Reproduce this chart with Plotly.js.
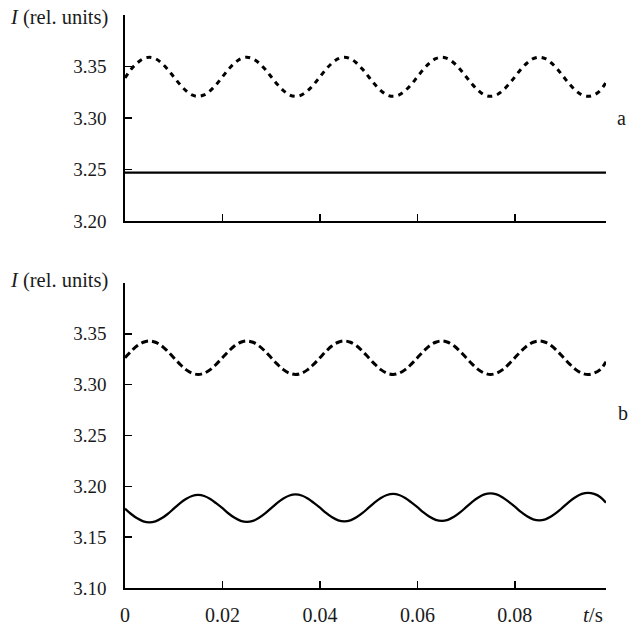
<!DOCTYPE html>
<html>
<head>
<meta charset="utf-8">
<script src="https://cdn.plot.ly/plotly-3.0.1.min.js"></script>
<style>html,body{margin:0;padding:0;background:#fff;}#chart{width:629px;height:628px;}</style>
</head>
<body>
<div id="chart"></div>
<script>
// time samples (s)
var t = [0, 0.00125, 0.0025, 0.00375, 0.005, 0.00625, 0.0075, 0.00875,
         0.01, 0.01125, 0.0125, 0.01375, 0.015, 0.01625, 0.0175, 0.01875,
         0.02, 0.02125, 0.0225, 0.02375, 0.025, 0.02625, 0.0275, 0.02875,
         0.03, 0.03125, 0.0325, 0.03375, 0.035, 0.03625, 0.0375, 0.03875,
         0.04, 0.04125, 0.0425, 0.04375, 0.045, 0.04625, 0.0475, 0.04875,
         0.05, 0.05125, 0.0525, 0.05375, 0.055, 0.05625, 0.0575, 0.05875,
         0.06, 0.06125, 0.0625, 0.06375, 0.065, 0.06625, 0.0675, 0.06875,
         0.07, 0.07125, 0.0725, 0.07375, 0.075, 0.07625, 0.0775, 0.07875,
         0.08, 0.08125, 0.0825, 0.08375, 0.085, 0.08625, 0.0875, 0.08875,
         0.09, 0.09125, 0.0925, 0.09375, 0.095, 0.09625, 0.0975, 0.0987];

// panel a
var aDashed = [3.3390, 3.3473, 3.3534, 3.3576, 3.3590, 3.3576, 3.3534, 3.3473,
               3.3400, 3.3327, 3.3266, 3.3224, 3.3210, 3.3224, 3.3266, 3.3327,
               3.3400, 3.3473, 3.3534, 3.3576, 3.3590, 3.3576, 3.3534, 3.3473,
               3.3400, 3.3327, 3.3266, 3.3224, 3.3210, 3.3224, 3.3266, 3.3327,
               3.3400, 3.3473, 3.3534, 3.3576, 3.3590, 3.3576, 3.3534, 3.3473,
               3.3400, 3.3327, 3.3266, 3.3224, 3.3210, 3.3224, 3.3266, 3.3327,
               3.3400, 3.3473, 3.3534, 3.3576, 3.3590, 3.3576, 3.3534, 3.3473,
               3.3400, 3.3327, 3.3266, 3.3224, 3.3210, 3.3224, 3.3266, 3.3327,
               3.3400, 3.3473, 3.3534, 3.3576, 3.3590, 3.3576, 3.3534, 3.3473,
               3.3400, 3.3327, 3.3266, 3.3224, 3.3210, 3.3224, 3.3266, 3.3345];
var aSolidT = [0, 0.0987];
var aSolid = [3.247, 3.247];

// panel b
var bDashed = [3.3265, 3.3328, 3.3382, 3.3417, 3.3430, 3.3417, 3.3382, 3.3328,
               3.3265, 3.3202, 3.3148, 3.3113, 3.3100, 3.3113, 3.3148, 3.3202,
               3.3265, 3.3328, 3.3382, 3.3417, 3.3430, 3.3417, 3.3382, 3.3328,
               3.3265, 3.3202, 3.3148, 3.3113, 3.3100, 3.3113, 3.3148, 3.3202,
               3.3265, 3.3328, 3.3382, 3.3417, 3.3430, 3.3417, 3.3382, 3.3328,
               3.3265, 3.3202, 3.3148, 3.3113, 3.3100, 3.3113, 3.3148, 3.3202,
               3.3265, 3.3328, 3.3382, 3.3417, 3.3430, 3.3417, 3.3382, 3.3328,
               3.3265, 3.3202, 3.3148, 3.3113, 3.3100, 3.3113, 3.3148, 3.3202,
               3.3265, 3.3328, 3.3382, 3.3417, 3.3430, 3.3417, 3.3382, 3.3328,
               3.3265, 3.3202, 3.3148, 3.3113, 3.3100, 3.3113, 3.3148, 3.3225];
var bSolid = [3.1780, 3.1728, 3.1685, 3.1655, 3.1645, 3.1655, 3.1685, 3.1728,
              3.1780, 3.1832, 3.1875, 3.1905, 3.1915, 3.1905, 3.1875, 3.1832,
              3.1785, 3.1733, 3.1690, 3.1660, 3.1650, 3.1660, 3.1690, 3.1733,
              3.1785, 3.1837, 3.1880, 3.1910, 3.1920, 3.1910, 3.1880, 3.1837,
              3.1790, 3.1738, 3.1695, 3.1665, 3.1655, 3.1665, 3.1695, 3.1738,
              3.1790, 3.1842, 3.1885, 3.1915, 3.1925, 3.1915, 3.1885, 3.1842,
              3.1795, 3.1743, 3.1700, 3.1670, 3.1660, 3.1670, 3.1700, 3.1743,
              3.1795, 3.1847, 3.1890, 3.1920, 3.1930, 3.1920, 3.1890, 3.1847,
              3.1800, 3.1748, 3.1705, 3.1675, 3.1665, 3.1675, 3.1705, 3.1748,
              3.1800, 3.1852, 3.1895, 3.1925, 3.1935, 3.1925, 3.1895, 3.1840];

var xTickVals = [0, 0.02, 0.04, 0.06, 0.08, 0.0987];
var xTickText = ['0', '0.02', '0.04', '0.06', '0.08', ''];
var yTickValsA = [3.20, 3.25, 3.30, 3.35, 3.40];
var yTickTextA = ['3.20', '3.25', '3.30', '3.35', ''];
var yTickValsB = [3.10, 3.15, 3.20, 3.25, 3.30, 3.35, 3.40];
var yTickTextB = ['3.10', '3.15', '3.20', '3.25', '3.30', '3.35', ''];

var fontFam = 'Liberation Serif';
var txtCol = '#1a1a1a';

var traces = [
  {x: t, y: aDashed, xaxis: 'x', yaxis: 'y', mode: 'lines', hoverinfo: 'skip',
   line: {color: '#000', width: 3, dash: '5px,5px', shape: 'spline', smoothing: 1}},
  {x: aSolidT, y: aSolid, xaxis: 'x', yaxis: 'y', mode: 'lines', hoverinfo: 'skip',
   line: {color: '#000', width: 2.4}},
  {x: t, y: bDashed, xaxis: 'x2', yaxis: 'y2', mode: 'lines', hoverinfo: 'skip',
   line: {color: '#000', width: 3, dash: '7px,4px', shape: 'spline', smoothing: 1}},
  {x: t, y: bSolid, xaxis: 'x2', yaxis: 'y2', mode: 'lines', hoverinfo: 'skip',
   line: {color: '#000', width: 2.3, shape: 'spline', smoothing: 1}}
];

var axCommon = {
  showgrid: false, zeroline: false, showline: true, linecolor: '#000', linewidth: 1.6,
  ticks: 'inside', ticklen: 7, tickwidth: 1.4, tickcolor: '#000',
  tickfont: {family: fontFam, size: 19, color: txtCol}, fixedrange: true
};

function merge(a, b) { var o = {}; for (var k in a) o[k] = a[k]; for (var k2 in b) o[k2] = b[k2]; return o; }

var layout = {
  width: 629, height: 628,
  margin: {l: 125, r: 23, t: 15, b: 40},
  paper_bgcolor: '#fff', plot_bgcolor: '#fff',
  font: {family: fontFam, color: txtCol},
  showlegend: false,
  xaxis: merge(axCommon, {domain: [0, 1], range: [0, 0.0987], tickvals: xTickVals, ticktext: ['', '', '', '', '', ''], anchor: 'y'}),
  yaxis: merge(axCommon, {domain: [0.6405, 1], range: [3.20, 3.40], tickvals: yTickValsA, ticktext: yTickTextA, anchor: 'x', ticklabelstandoff: 13}),
  xaxis2: merge(axCommon, {domain: [0, 1], range: [0, 0.0987], tickvals: xTickVals, ticktext: xTickText, anchor: 'y2', ticklabelstandoff: 8,
     tickfont: {family: fontFam, size: 20, color: txtCol}}),
  yaxis2: merge(axCommon, {domain: [0, 0.5323], range: [3.10, 3.40], tickvals: yTickValsB, ticktext: yTickTextB, anchor: 'x2', ticklabelstandoff: 13}),
  annotations: [
    {xref: 'paper', yref: 'paper', x: -0.031, y: 0.9965, xanchor: 'right', yanchor: 'middle', showarrow: false,
     text: '<i>I</i> (rel. units)', font: {family: fontFam, size: 20.5, color: txtCol}},
    {xref: 'paper', yref: 'paper', x: -0.031, y: 0.5358, xanchor: 'right', yanchor: 'middle', showarrow: false,
     text: '<i>I</i> (rel. units)', font: {family: fontFam, size: 20.5, color: txtCol}},
    {xref: 'paper', yref: 'paper', x: 1.033, y: 0.820, xanchor: 'center', yanchor: 'middle', showarrow: false,
     text: 'a', font: {family: fontFam, size: 20, color: txtCol}},
    {xref: 'paper', yref: 'paper', x: 1.035, y: 0.305, xanchor: 'center', yanchor: 'middle', showarrow: false,
     text: 'b', font: {family: fontFam, size: 20, color: txtCol}},
    {xref: 'paper', yref: 'paper', x: 0.973, y: -0.047, xanchor: 'center', yanchor: 'middle', showarrow: false,
     text: '<i>t</i>/s', font: {family: fontFam, size: 21, color: txtCol}}
  ]
};

Plotly.newPlot('chart', traces, layout, {displayModeBar: false, staticPlot: true});
</script>
</body>
</html>
